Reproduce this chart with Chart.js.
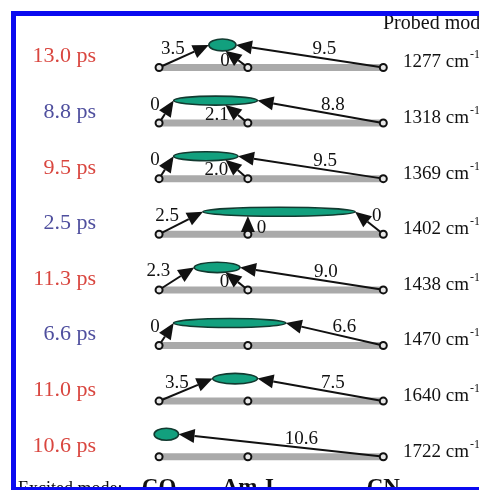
<!DOCTYPE html>
<html>
<head>
<meta charset="utf-8">
<script src="https://cdn.jsdelivr.net/npm/chart.js@4/dist/chart.umd.min.js"></script>
<style>
  html, body { margin: 0; padding: 0; background: #fff; }
  canvas { display: block; }
</style>
</head>
<body>
<canvas id="chart-modes" width="479" height="490"></canvas>
<script>
// one row per probed mode, top to bottom
const times = [13.0, 8.8, 9.5, 2.5, 11.3, 6.6, 11.0, 10.6];
const timeTone = ['red', 'blue', 'red', 'blue', 'red', 'blue', 'red', 'red'];
const probedModes = [1277, 1318, 1369, 1402, 1438, 1470, 1640, 1722];
const excitedModes = ['CO', 'Am-I', 'CN'];

// transfer times (ps) from each excited mode, null = no arrow
const fromCO = [3.5, 0, 0, 2.5, 2.3, 0, 3.5, null];
const fromAmI = [0, 2.1, 2.0, 0, 0, null, null, null];
const fromCN = [9.5, 8.8, 9.5, 0, 9.0, 6.6, 7.5, 10.6];

// extent of the green spot along the mode axis (CO = 0, CN = 1)
const spotStart = [0.222, 0.065, 0.065, 0.196, 0.157, 0.065, 0.239, -0.022];
const spotEnd = [0.343, 0.439, 0.352, 0.874, 0.361, 0.565, 0.439, 0.087];

// where the excited modes sit on the axis
const modeX = [0, 0.396, 1];

const tones = { red: '#d9463f', blue: '#4f4f9e' };
const serif = '"Liberation Serif", "DejaVu Serif", serif';
const fmt = (v) => v === 0 ? '0' : v.toFixed(1);

const rows = times.map((t, i) => i);

const drawArrow = (ctx, x0, y0, x1, y1) => {
    const a = Math.atan2(y1 - y0, x1 - x0);
    const len = 16, half = 7;
    const bx = x1 - len * Math.cos(a), by = y1 - len * Math.sin(a);
    ctx.beginPath();
    ctx.moveTo(x0 + 3.5 * Math.cos(a), y0 + 3.5 * Math.sin(a));
    ctx.lineTo(bx, by);
    ctx.lineWidth = 2;
    ctx.strokeStyle = '#111';
    ctx.stroke();
    ctx.beginPath();
    ctx.moveTo(x1, y1);
    ctx.lineTo(bx - half * Math.sin(a), by + half * Math.cos(a));
    ctx.lineTo(bx + half * Math.sin(a), by - half * Math.cos(a));
    ctx.closePath();
    ctx.fillStyle = '#111';
    ctx.fill();
};

const label = (ctx, text, x, y, align) => {
    ctx.font = '19px ' + serif;
    ctx.fillStyle = '#111';
    ctx.textAlign = align;
    ctx.textBaseline = 'middle';
    ctx.fillText(text, x, y);
};

const spotGeometry = (chart, r) => {
    const xs = chart.scales.x, ys = chart.scales.y;
    const left = xs.getPixelForValue(spotStart[r]);
    const right = xs.getPixelForValue(spotEnd[r]);
    const a = (right - left) / 2;
    const b = Math.max(4.5, 7 - (right - left) / 25);
    return { cx: left + a, cy: ys.getPixelForValue(r - 0.404), a, b, left, right };
};

const transfers = {
    id: 'transfers',
    afterDatasetDraw(chart, args) {
        if (args.index !== 1) return;
        const ctx = chart.ctx, xs = chart.scales.x, ys = chart.scales.y;
        ctx.save();
        rows.forEach((r) => {
            const s = spotGeometry(chart, r);
            const base = ys.getPixelForValue(r);
            const px = modeX.map((m) => xs.getPixelForValue(m));

            ctx.beginPath();
            ctx.ellipse(s.cx, s.cy, s.a, s.b, 0, 0, Math.PI * 2);
            ctx.fillStyle = '#12a07e';
            ctx.fill();
            ctx.lineWidth = 1.6;
            ctx.strokeStyle = '#123a30';
            ctx.stroke();

            if (fromCO[r] !== null) {
                drawArrow(ctx, px[0], base, s.left, s.cy);
                const v = fromCO[r];
                label(ctx, fmt(v), s.left - (v === 0 ? 14 : 24), s.cy + 4, 'right');
            }
            if (fromAmI[r] !== null) {
                const v = fromAmI[r];
                let tx = xs.getPixelForValue(modeX[1]);
                const vertical = modeX[1] < spotEnd[r] - 0.2;
                if (!vertical) tx = xs.getPixelForValue(modeX[1] - 0.1);
                const k = (tx - s.cx) / s.a;
                const ty = s.cy + s.b * Math.sqrt(Math.max(0, 1 - k * k));
                drawArrow(ctx, px[1], base, tx, ty);
                if (vertical) {
                    label(ctx, fmt(v), tx + 9, (ty + base) / 2 + 3, 'left');
                } else {
                    const ly = ty + 10;
                    const lx = px[1] + (tx - px[1]) * (base - ly) / (base - ty);
                    label(ctx, fmt(v), lx - 9, ly, 'right');
                }
            }
            if (fromCN[r] !== null) {
                const v = fromCN[r];
                drawArrow(ctx, px[2], base, s.right, s.cy);
                if (v === 0) {
                    label(ctx, fmt(v), s.right + 17, s.cy + 4, 'left');
                } else {
                    const t = 0.4;
                    const lx = px[2] + (s.right - px[2]) * t;
                    const ly = base + (s.cy - base) * t;
                    label(ctx, fmt(v), lx, ly - 9, 'center');
                }
            }
        });
        ctx.restore();
    },
    afterDraw(chart) {
        const ctx = chart.ctx, xs = chart.scales.x, ys = chart.scales.y;
        ctx.save();
        ctx.textBaseline = 'alphabetic';
        rows.forEach((r) => {
            const base = ys.getPixelForValue(r);
            ctx.font = '22px ' + serif;
            ctx.textAlign = 'right';
            ctx.fillStyle = tones[timeTone[r]];
            ctx.fillText(times[r].toFixed(1) + ' ps', 96, base - 5);

            ctx.font = '19px ' + serif;
            ctx.textAlign = 'left';
            ctx.fillStyle = '#111';
            const txt = probedModes[r] + ' cm';
            ctx.fillText(txt, 403, base);
            const w = ctx.measureText(txt).width;
            ctx.font = '12px ' + serif;
            ctx.fillText('-1', 403 + w + 1, base - 9);
        });

        ctx.font = '20px ' + serif;
        ctx.textAlign = 'left';
        ctx.fillStyle = '#111';
        ctx.fillText('Probed mode', 383, 29);
        ctx.font = '18px ' + serif;
        ctx.fillText('Excited mode:', 18, 494);
        ctx.font = 'bold 23px ' + serif;
        ctx.textAlign = 'center';
        excitedModes.forEach((m, i) => {
            ctx.fillText(m, xs.getPixelForValue(modeX[i]), 494);
        });

        // frame
        ctx.fillStyle = '#0a0af0';
        ctx.fillRect(11, 11, 479, 5);
        ctx.fillRect(11, 11, 5, 479);
        ctx.fillRect(11, 487, 479, 4);
        ctx.restore();
    }
};

const rowLine = (r) => ({
    type: 'line',
    data: [{ x: modeX[0], y: r }, { x: modeX[2], y: r }],
    borderColor: '#aaaaaa',
    borderWidth: 7,
    borderCapStyle: 'butt',
    pointRadius: 0,
    fill: false
});

const modePoints = [];
rows.forEach((r) => modeX.forEach((m) => modePoints.push({ x: m, y: r })));

new Chart(document.getElementById('chart-modes'), {
    type: 'scatter',
    data: {
        datasets: [
            {
                data: modePoints,
                pointRadius: 3.5,
                pointBorderWidth: 2,
                pointBorderColor: '#111',
                pointBackgroundColor: '#e8e8e8'
            },
            ...rows.map(rowLine)
        ]
    },
    options: {
        responsive: false,
        animation: false,
        devicePixelRatio: 1,
        layout: { padding: 0 },
        plugins: {
            legend: { display: false },
            tooltip: { enabled: false }
        },
        scales: {
            x: { type: 'linear', min: -0.6826, max: 1.4, display: false },
            y: { type: 'linear', min: -1.105, max: 7.491, reverse: true, display: false }
        }
    },
    plugins: [transfers]
});
</script>
</body>
</html>
